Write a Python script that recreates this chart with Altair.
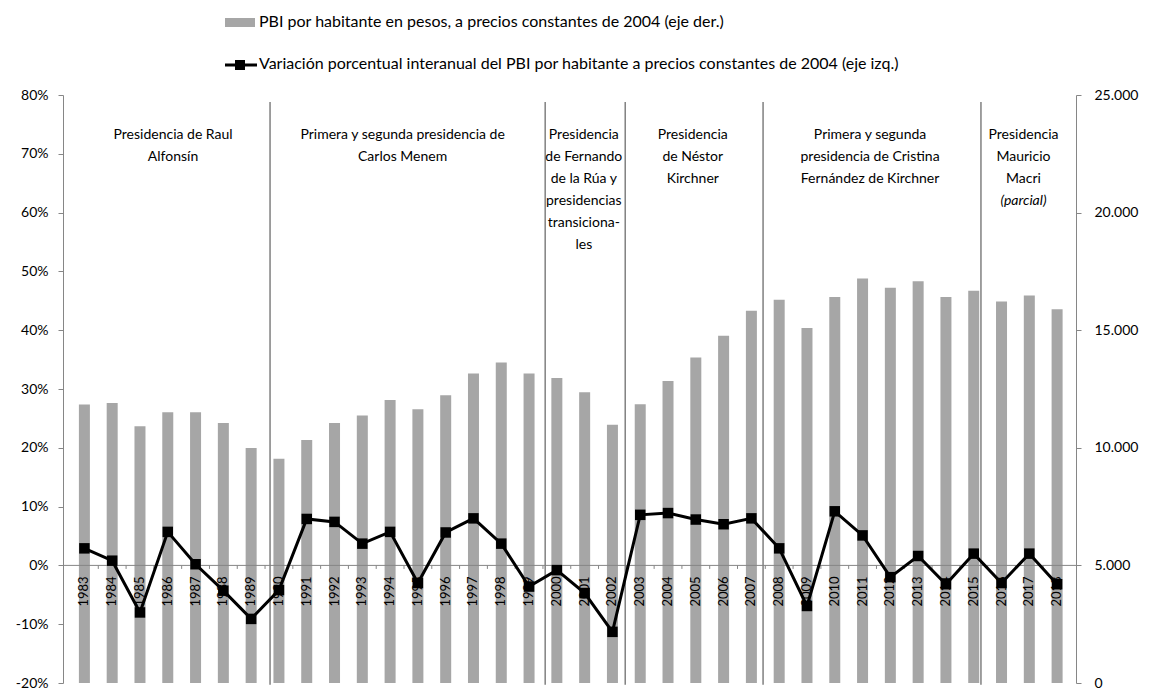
import altair as alt
import pandas as pd

# ---- data -----------------------------------------------------------------
years = [1983, 1984, 1985, 1986, 1987, 1988, 1989, 1990, 1991, 1992, 1993, 1994,
         1995, 1996, 1997, 1998, 1999, 2000, 2001, 2002, 2003, 2004, 2005, 2006,
         2007, 2008, 2009, 2010, 2011, 2012, 2013, 2014, 2015, 2016, 2017, 2018]

# PBI por habitante, pesos constantes de 2004 (eje derecho)
pbi = [11840, 11910, 10920, 11510, 11510, 11050, 9990, 9530, 10330, 11050,
       11370, 12030, 11640, 12230, 13160, 13630, 13160, 12970, 12360, 10980,
       11850, 12840, 13840, 14760, 15830, 16290, 15090, 16410, 17200, 16810,
       17080, 16410, 16680, 16220, 16480, 15890]

# variación porcentual interanual (eje izquierdo)
variacion = [2.9, 0.8, -8.0, 5.7, 0.2, -4.3, -9.1, -4.2, 7.9, 7.4, 3.7, 5.7,
             -3.0, 5.6, 8.0, 3.7, -3.6, -0.8, -4.7, -11.3, 8.6, 8.9, 7.8, 7.0,
             8.0, 2.9, -6.9, 9.2, 5.1, -2.0, 1.6, -3.2, 2.0, -3.0, 2.0, -3.2]

# cambios de gobierno (en unidades de año)
separadores = [1989.68, 1999.58, 2002.46, 2007.42, 2015.26]

presidencias = [
    "Presidencia de Raul\nAlfonsín",
    "Primera y segunda presidencia de\nCarlos Menem",
    "Presidencia\nde Fernando\nde la Rúa y\npresidencias\ntransiciona-\nles",
    "Presidencia\nde Néstor\nKirchner",
    "Primera y segunda\npresidencia de Cristina\nFernández de Kirchner",
    "Presidencia\nMauricio\nMacri",
]
presidencias_x = [1986.19, 1994.45, 2000.97, 2004.89, 2011.27, 2016.79]

left_ticks = [-20, -10, 0, 10, 20, 30, 40, 50, 60, 70, 80]
right_ticks = [0, 5000, 10000, 15000, 20000, 25000]

legend_bar = "PBI por habitante en pesos, a precios constantes de 2004 (eje der.)"
legend_line = ("Variación porcentual interanual del PBI por habitante a precios "
               "constantes de 2004 (eje izq.)")

# ---- tables ---------------------------------------------------------------
df = pd.DataFrame({"year": years, "pbi": pbi, "var": variacion})
df["zero"] = 0
ticks_df = pd.DataFrame({"b": [y + 0.5 for y in years[:-1]]})
ticks_df["y0"] = 0
ticks_df["y1"] = -0.6
sep_df = pd.DataFrame({"sep": separadores})
sep_df["top"] = 78.8
sep_df["bottom"] = -20.3
pres_df = pd.DataFrame({"x": presidencias_x, "label": presidencias})
pres_df["y"] = 74.4
parcial_df = pd.DataFrame({"x": [presidencias_x[-1]], "y": [63.2], "label": ["(parcial)"]})
zero_df = pd.DataFrame({"y": [0]})
one = pd.DataFrame({"k": [0]})

FONT = "Lato"
AXIS_GREY = "#868686"
TEXT = "#000000"

xs = alt.Scale(domain=[1982.41, 2018.5], nice=False, zero=False)
left = alt.Scale(domain=[-20, 80], nice=False, zero=False)
right = alt.Scale(domain=[0, 25000], nice=False)


def X(field):
    return alt.X(f"{field}:Q", scale=xs, axis=None)


def YL(field):
    return alt.Y(f"{field}:Q", scale=left, axis=None)


# ---- layers ---------------------------------------------------------------
bars = alt.Chart(df).mark_bar(size=11, color="#a6a6a6").encode(
    x=X("year"),
    y=alt.Y("pbi:Q", scale=right, axis=alt.Axis(
        orient="right", values=right_ticks, title=None, grid=False,
        labelExpr="replace(format(datum.value, ',d'), ',', '.')",
        tickSize=5, labelPadding=13)),
)

zero_line = alt.Chart(zero_df).mark_rule(color=AXIS_GREY, strokeWidth=1).encode(
    x=alt.value(0), x2=alt.value(1013), y=YL("y"),
)

cat_ticks = alt.Chart(ticks_df).mark_rule(color=AXIS_GREY, strokeWidth=1).encode(
    x=X("b"), y=YL("y0"), y2="y1:Q",
)

year_labels = alt.Chart(df).mark_text(
    angle=270, align="right", baseline="middle", yOffset=11,
    font=FONT, fontSize=13, color=TEXT,
).encode(x=X("year"), y=YL("zero"), text=alt.Text("year:Q", format="d"))

separators = alt.Chart(sep_df).mark_rule(color="#808080", strokeWidth=1.5).encode(
    x=X("sep"), y=YL("top"), y2="bottom:Q",
)

line = alt.Chart(df).mark_line(color="black", strokeWidth=3).encode(
    x=X("year"),
    y=alt.Y("var:Q", scale=left, axis=alt.Axis(
        orient="left", values=left_ticks, title=None, grid=False,
        labelExpr="datum.value + '%'", tickSize=5, labelPadding=10)),
)

points = alt.Chart(df).mark_point(
    shape="square", filled=True, size=110, color="black", opacity=1,
).encode(x=X("year"), y=YL("var"))

annotations = alt.Chart(pres_df).mark_text(
    align="center", baseline="top", lineBreak="\n", lineHeight=22,
    font=FONT, fontSize=14, color=TEXT,
).encode(x=X("x"), y=YL("y"), text="label:N")

parcial = alt.Chart(parcial_df).mark_text(
    align="center", baseline="top", fontStyle="italic",
    font=FONT, fontSize=14, color=TEXT,
).encode(x=X("x"), y=YL("y"), text="label:N")

# legend drawn above the plot area
leg_rect = alt.Chart(one).mark_rect(color="#a6a6a6").encode(
    x=alt.value(162), x2=alt.value(192), y=alt.value(-77), y2=alt.value(-68),
)
leg_text1 = alt.Chart(one).mark_text(
    align="left", baseline="middle", font=FONT, fontSize=16, color=TEXT,
).encode(x=alt.value(196), y=alt.value(-73), text=alt.value(legend_bar))
leg_rule = alt.Chart(one).mark_rule(color="black", strokeWidth=3).encode(
    x=alt.value(162), x2=alt.value(194), y=alt.value(-30),
)
leg_mark = alt.Chart(one).mark_point(
    shape="square", filled=True, size=100, color="black", opacity=1,
).encode(x=alt.value(177), y=alt.value(-30))
leg_text2 = alt.Chart(one).mark_text(
    align="left", baseline="middle", font=FONT, fontSize=16, color=TEXT,
).encode(x=alt.value(196), y=alt.value(-31), text=alt.value(legend_line))

chart = (
    alt.layer(bars, zero_line, cat_ticks, year_labels, separators, line, points,
              annotations, parcial, leg_rect, leg_text1, leg_rule, leg_mark, leg_text2)
    .resolve_scale(y="independent")
    .properties(
        width=1013, height=588,
        padding={"left": 63, "top": 95, "right": 73, "bottom": 7},
        autosize=alt.AutoSizeParams(type="none"),
        background="white",
    )
    .configure_view(stroke=None)
    .configure_axis(
        labelFont=FONT, labelFontSize=14, labelColor=TEXT,
        domainColor=AXIS_GREY, tickColor=AXIS_GREY, domainWidth=1, tickWidth=1,
    )
)

chart.save("out.html", embed_options={"renderer": "svg", "actions": False})
